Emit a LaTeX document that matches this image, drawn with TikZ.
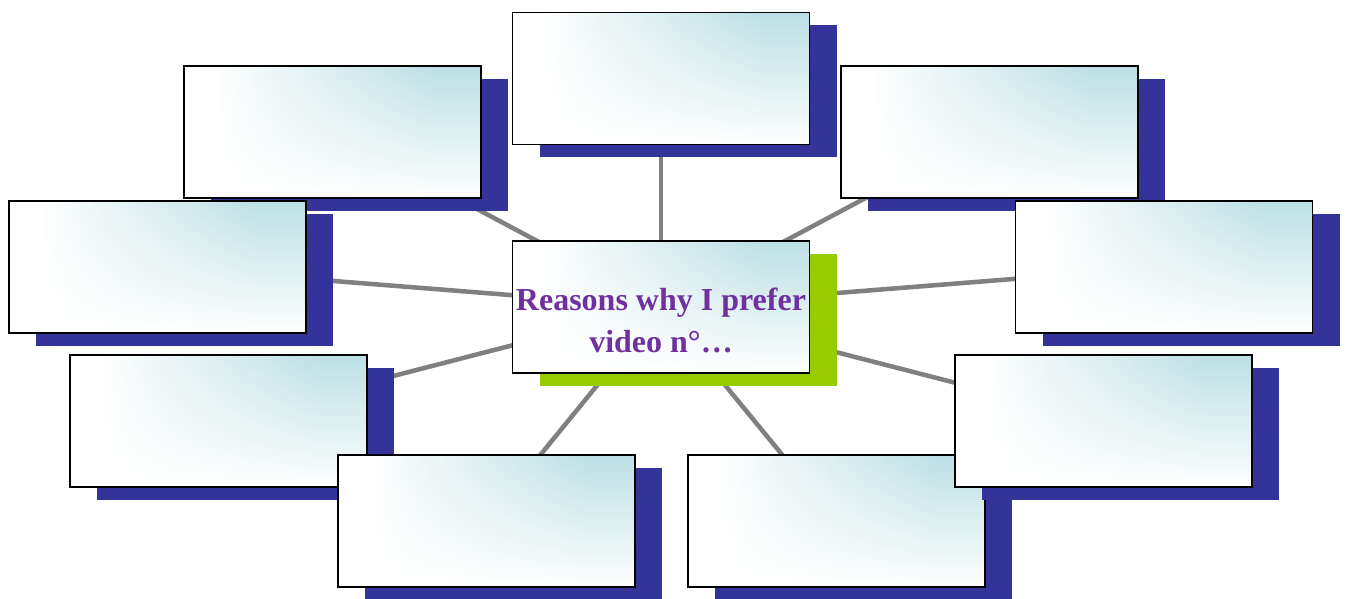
\documentclass[tikz,border=0pt]{standalone}
\usepackage{fontspec}
\setmainfont{Liberation Serif}
\usetikzlibrary{shadows,fadings,backgrounds}
\definecolor{tealc}{RGB}{188,224,228}
\definecolor{shadowblue}{RGB}{51,51,153}
\definecolor{shadowgreen}{RGB}{153,204,0}
\definecolor{linegray}{RGB}{128,128,128}
\definecolor{txtpurple}{RGB}{112,48,160}
\pgfdeclarehorizontalshading{boxshade}{100bp}{color(0bp)=(white); color(30bp)=(white); color(67bp)=(tealc); color(100bp)=(tealc)}
\tikzfading[name=boxfade, top color=transparent!100, bottom color=transparent!0]
\tikzset{
  card/.style={minimum width=222.75pt, minimum height=99pt, inner sep=0pt,
    shade, shading=boxshade,
    general shadow={fill=#1, shadow xshift=20.25pt, shadow yshift=-9.75pt},
    postaction={fill=white, path fading=boxfade},
    postaction={draw=black, line width=1.4pt}},
  card/.default=shadowblue,
  spoke/.style={draw=linegray, line width=3.4pt},
  title/.style={align=center, text=txtpurple, inner sep=0pt,
    font=\fontsize{24}{31.5}\selectfont\bfseries}
}
\begin{document}
\begin{tikzpicture}[x=0.75pt,y=-0.75pt]
\useasboundingbox (0,0) rectangle (1348,599);
\node[card] (top) at (661,78.5) {};
\node[card] (tl) at (332.5,132) {};
\node[card] (tr) at (989.5,132) {};
\node[card] (l) at (157.5,267) {};
\node[card] (r) at (1164,267) {};
\node[card] (ll) at (218.5,421) {};
\node[card] (bl) at (486.5,521) {};
\node[card] (br) at (836.5,521) {};
\node[card] (lr) at (1103.5,421) {};
\node[card=shadowgreen] (c) at (661,307) {};
\node[title] (ctext) at (661,320) {Reasons why I prefer\\video n°\ldots};
\begin{pgfonlayer}{background}
\foreach \n in {top,tl,tr,l,r,ll,bl,br,lr}
  \draw[spoke] (c.center) -- (\n.center);
\end{pgfonlayer}
\end{tikzpicture}
\end{document}
